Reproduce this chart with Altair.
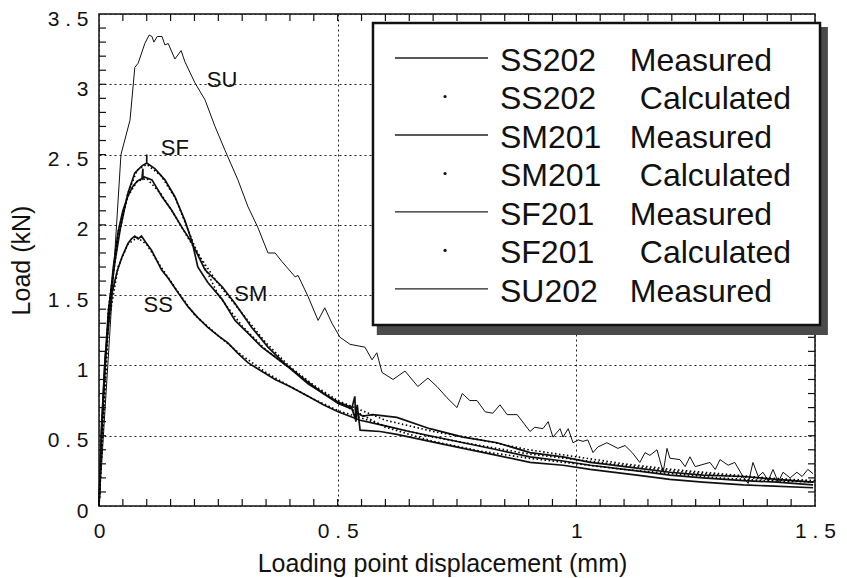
import altair as alt
import pandas as pd

# ---------------- data ----------------
ss_x = [0, 0.005, 0.013, 0.027, 0.038, 0.048, 0.061, 0.068, 0.075, 0.082, 0.089, 0.097, 0.11, 0.131, 0.145,
        0.165, 0.186, 0.207, 0.228, 0.25, 0.27, 0.29, 0.312, 0.34, 0.369, 0.40, 0.438, 0.47, 0.501, 0.547,
        0.6, 0.65, 0.693, 0.763, 0.834, 0.903, 0.972, 1.029, 1.127, 1.196, 1.265, 1.35, 1.42, 1.496]
ss_y = [0, 0.55, 1.06, 1.51, 1.67, 1.77, 1.87, 1.90, 1.92, 1.90, 1.92, 1.88, 1.82, 1.68, 1.62,
        1.52, 1.42, 1.34, 1.27, 1.21, 1.16, 1.09, 1.02, 0.96, 0.90, 0.85, 0.78, 0.72, 0.67, 0.61,
        0.57, 0.53, 0.50, 0.45, 0.40, 0.35, 0.32, 0.29, 0.25, 0.22, 0.20, 0.18, 0.17, 0.15]

sm_x = [0, 0.005, 0.012, 0.02, 0.03, 0.04, 0.05, 0.06, 0.07, 0.08, 0.09, 0.092, 0.092, 0.095, 0.111, 0.132,
        0.153, 0.174, 0.195, 0.222, 0.258, 0.285, 0.32, 0.354, 0.39, 0.438, 0.47, 0.501, 0.53, 0.536,
        0.538, 0.541, 0.553, 0.574, 0.624, 0.693, 0.763, 0.834, 0.903, 0.972, 1.029, 1.056, 1.127, 1.196,
        1.265, 1.35, 1.42, 1.496]
sm_y = [0, 0.45, 0.95, 1.35, 1.7, 1.95, 2.1, 2.2, 2.27, 2.31, 2.33, 2.40, 2.33, 2.34, 2.32, 2.20,
        2.10, 1.98, 1.87, 1.68, 1.56, 1.44, 1.27, 1.13, 1.01, 0.88, 0.80, 0.74, 0.70, 0.78,
        0.60, 0.66, 0.64, 0.65, 0.63, 0.55, 0.49, 0.45, 0.38, 0.35, 0.31, 0.30, 0.27, 0.24,
        0.22, 0.21, 0.19, 0.17]

sf_x = [0, 0.005, 0.012, 0.02, 0.034, 0.045, 0.061, 0.075, 0.09, 0.1, 0.1, 0.1, 0.117, 0.138, 0.159,
        0.18, 0.195, 0.207, 0.228, 0.258, 0.285, 0.312, 0.341, 0.369, 0.40, 0.438, 0.47, 0.501, 0.53,
        0.536, 0.541, 0.547, 0.589, 0.624, 0.693, 0.763, 0.834, 0.903, 0.972, 1.029, 1.127, 1.196,
        1.265, 1.35, 1.496]
sf_y = [0, 0.5, 1.0, 1.4, 1.75, 1.98, 2.23, 2.37, 2.42, 2.44, 2.50, 2.44, 2.40, 2.32, 2.20,
        2.03, 1.88, 1.70, 1.59, 1.47, 1.32, 1.23, 1.13, 1.06, 0.98, 0.87, 0.80, 0.73, 0.69,
        0.63, 0.72, 0.54, 0.53, 0.51, 0.46, 0.41, 0.36, 0.31, 0.29, 0.26, 0.22, 0.19,
        0.17, 0.15, 0.13]

su_x = [0, 0.046, 0.065, 0.075, 0.082, 0.096, 0.105, 0.111, 0.115, 0.122, 0.132, 0.138, 0.145, 0.159,
        0.172, 0.180, 0.201, 0.222, 0.243, 0.264, 0.291, 0.312, 0.333, 0.354, 0.369, 0.383, 0.411,
        0.417, 0.438, 0.459, 0.473, 0.488, 0.505, 0.526, 0.557, 0.572, 0.582, 0.593, 0.616, 0.641,
        0.668, 0.689, 0.708, 0.729, 0.750, 0.761, 0.777, 0.792, 0.809, 0.825, 0.840, 0.855, 0.876,
        0.903, 0.913, 0.930, 0.941, 0.951, 0.966, 0.972, 0.983, 0.993, 1.004, 1.014, 1.024, 1.035,
        1.045, 1.064, 1.087, 1.102, 1.117, 1.133, 1.144, 1.154, 1.169, 1.182, 1.190, 1.196, 1.217,
        1.228, 1.238, 1.249, 1.280, 1.291, 1.301, 1.318, 1.332, 1.349, 1.360, 1.370, 1.381, 1.391,
        1.402, 1.412, 1.423, 1.433, 1.448, 1.462, 1.473, 1.485, 1.496]
su_y = [0, 2.50, 2.745, 3.12, 3.15, 3.29, 3.35, 3.34, 3.30, 3.34, 3.34, 3.28, 3.29, 3.18,
        3.24, 3.16, 3.01, 2.89, 2.70, 2.53, 2.32, 2.13, 1.98, 1.80, 1.80, 1.74, 1.63,
        1.64, 1.49, 1.32, 1.41, 1.30, 1.20, 1.15, 1.13, 1.04, 1.09, 0.95, 0.90, 0.96,
        0.85, 0.91, 0.85, 0.77, 0.70, 0.80, 0.75, 0.75, 0.67, 0.66, 0.72, 0.65, 0.65,
        0.53, 0.56, 0.55, 0.60, 0.49, 0.55, 0.49, 0.55, 0.45, 0.47, 0.46, 0.47, 0.38,
        0.42, 0.45, 0.41, 0.43, 0.38, 0.31, 0.38, 0.36, 0.40, 0.24, 0.41, 0.34, 0.33,
        0.28, 0.35, 0.28, 0.31, 0.26, 0.33, 0.29, 0.31, 0.21, 0.16, 0.31, 0.21, 0.24,
        0.18, 0.26, 0.17, 0.24, 0.20, 0.24, 0.21, 0.26, 0.23]

calc_x = [0, 0.02, 0.04, 0.06, 0.08, 0.1, 0.13, 0.16, 0.2, 0.25, 0.3, 0.35, 0.4, 0.45, 0.5,
          0.6, 0.7, 0.8, 0.9, 1.0, 1.1, 1.2, 1.3, 1.4, 1.5]
ss_calc_y = [0, 1.3, 1.7, 1.86, 1.91, 1.86, 1.70, 1.55, 1.36, 1.21, 1.07, 0.95, 0.85, 0.76, 0.68,
             0.57, 0.49, 0.43, 0.37, 0.33, 0.29, 0.25, 0.22, 0.19, 0.17]
sm_calc_y = [0, 1.4, 1.95, 2.2, 2.31, 2.33, 2.22, 2.06, 1.83, 1.58, 1.37, 1.16, 0.99, 0.86, 0.75,
             0.61, 0.53, 0.47, 0.40, 0.35, 0.30, 0.26, 0.23, 0.20, 0.18]
sf_calc_y = [0, 1.4, 1.9, 2.22, 2.39, 2.43, 2.35, 2.19, 1.85, 1.50, 1.28, 1.11, 0.98, 0.85, 0.74,
             0.56, 0.46, 0.39, 0.34, 0.30, 0.26, 0.23, 0.20, 0.18, 0.17]

legend_ids = ["SS202", "SS202", "SM201", "SM201", "SF201", "SF201", "SU202"]
legend_kinds = ["Measured", "Calculated", "Measured", "Calculated", "Measured", "Calculated", "Measured"]

curve_labels = ["SU", "SF", "SS", "SM"]
curve_label_x = [0.258, 0.159, 0.124, 0.318]
curve_label_y = [3.03, 2.55, 1.43, 1.51]

x_ticks = [0, 0.5, 1, 1.5]
y_ticks = [0, 0.5, 1, 1.5, 2, 2.5, 3, 3.5]

# ---------------- build tables ----------------
def frame(name, xs, ys):
    return pd.DataFrame({"x": xs, "y": ys, "s": name, "o": range(len(xs))})

thick = pd.concat([frame("SS", ss_x, ss_y), frame("SM", sm_x, sm_y), frame("SF", sf_x, sf_y)])
thin = frame("SU", su_x, su_y)
calc = pd.concat([frame("SSc", calc_x, ss_calc_y), frame("SMc", calc_x, sm_calc_y),
                  frame("SFc", calc_x, sf_calc_y)])

W, H = 716, 492
FONT = "Liberation Sans"
xs = alt.Scale(domain=[0, 1.5], nice=False, zero=False)
ys = alt.Scale(domain=[0, 3.5], nice=False, zero=False)
LBL = "replace(format(datum.value, '~g'), '.', ' . ')"

AX = alt.Axis(values=x_ticks, grid=True, gridDash=[2, 3], gridColor="#222", gridWidth=1,
              ticks=False, tickSize=0, domain=False, labelFont=FONT, labelFontSize=21,
              labelColor="#111", labelPadding=14, labelExpr=LBL, labelFlush=False,
              title="Loading point displacement (mm)", titleFont=FONT, titleFontSize=25,
              titleFontWeight="normal", titleColor="#111", titleX=343, titleY=57,
              titleBaseline="middle", titleAlign="center")
AY = alt.Axis(values=y_ticks, grid=True, gridDash=[2, 3], gridColor="#222", gridWidth=1,
              ticks=False, tickSize=0, domain=False, labelFont=FONT, labelFontSize=21,
              labelColor="#111", labelPadding=11, labelBaseline="middle", labelOffset=5,
              labelExpr=LBL, labelFlush=False,
              title="Load (kN)", titleFont=FONT, titleFontSize=25, titleFontWeight="normal",
              titleColor="#111", titleX=-78, titleY=246, titleAngle=270,
              titleBaseline="middle", titleAlign="center")


def X(f):
    return alt.X(f, scale=xs, axis=AX)


def Y(f):
    return alt.Y(f, scale=ys, axis=AY)


thick_layer = alt.Chart(thick).mark_line(color="#111", strokeWidth=1.7).encode(
    x=X("x:Q"), y=Y("y:Q"), detail="s:N", order="o:Q")
thin_layer = alt.Chart(thin).mark_line(color="#111", strokeWidth=1).encode(
    x=X("x:Q"), y=Y("y:Q"), order="o:Q")
calc_layer = alt.Chart(calc).mark_line(color="#000", strokeWidth=1.6, strokeDash=[1.5, 2.5]).encode(
    x=X("x:Q"), y=Y("y:Q"), detail="s:N", order="o:Q")

# inward minor ticks
xt = pd.DataFrame({"t": [round(i * 0.05, 2) for i in range(1, 30)]})
yt = pd.DataFrame({"t": [round(i * 0.1, 1) for i in range(1, 35)]})
tick_bottom = alt.Chart(xt).mark_rule(color="#111", strokeWidth=1.2).encode(
    x=X("t:Q"), y=alt.value(H), y2=alt.value(H - 7))
tick_top = alt.Chart(xt).mark_rule(color="#111", strokeWidth=1.2).encode(
    x=X("t:Q"), y=alt.value(0), y2=alt.value(7))
tick_left = alt.Chart(yt).mark_rule(color="#111", strokeWidth=1.2).encode(
    y=Y("t:Q"), x=alt.value(0), x2=alt.value(7))
tick_right = alt.Chart(yt).mark_rule(color="#111", strokeWidth=1.2).encode(
    y=Y("t:Q"), x=alt.value(W), x2=alt.value(W - 7))

# legend box
shadow = alt.Chart(pd.DataFrame({"x": [0.582], "x2": [1.527], "y": [3.408], "y2": [1.216]})).mark_rect(
    color="#4a4a4a").encode(x=X("x:Q"), x2="x2:Q", y=Y("y:Q"), y2="y2:Q")
box = alt.Chart(pd.DataFrame({"x": [0.574], "x2": [1.5105], "y": [3.436], "y2": [1.288]})).mark_rect(
    fill="white", stroke="#111", strokeWidth=2.5).encode(x=X("x:Q"), x2="x2:Q", y=Y("y:Q"), y2="y2:Q")

row_y = [3.187 - 0.2738 * i for i in range(len(legend_ids))]
leg = pd.DataFrame({"id": legend_ids, "kind": legend_kinds, "ry": row_y,
                    "lx": 0.620, "lx2": 0.815, "dx": 0.725, "tx": 0.840,
                    "kx": [1.112 if k == "Measured" else 1.133 for k in legend_kinds]})
leg_lines = alt.Chart(leg).transform_filter("datum.kind == 'Measured'").mark_rule(
    color="#222", strokeWidth=1.3).encode(x=X("lx:Q"), x2="lx2:Q", y=Y("ry:Q"))
leg_dots = alt.Chart(leg).transform_filter("datum.kind == 'Calculated'").mark_point(
    filled=True, color="#111", size=10, opacity=1).encode(x=X("dx:Q"), y=Y("ry:Q"))
leg_id = alt.Chart(leg).mark_text(font=FONT, fontSize=32, align="left", baseline="middle",
                                  color="#111", dy=3).encode(x=X("tx:Q"), y=Y("ry:Q"), text="id:N")
leg_kind = alt.Chart(leg).mark_text(font=FONT, fontSize=32, align="left", baseline="middle",
                                    color="#111", dy=3).encode(x=X("kx:Q"), y=Y("ry:Q"), text="kind:N")

labels = alt.Chart(pd.DataFrame({"t": curve_labels, "x": curve_label_x, "y": curve_label_y})).mark_text(
    font=FONT, fontSize=22, align="center", baseline="middle", color="#111").encode(
    x=X("x:Q"), y=Y("y:Q"), text="t:N")

chart = alt.layer(
    thick_layer, thin_layer, calc_layer, tick_bottom, tick_top, tick_left, tick_right,
    shadow, box, leg_lines, leg_dots, leg_id, leg_kind, labels
).properties(
    width=W, height=H,
    autosize=alt.AutoSizeParams(type="none"),
    padding={"left": 91, "top": 6, "right": 24, "bottom": 72},
    background="white",
).configure_view(stroke="#111", strokeWidth=1.5)

chart.save("out.html", embed_options={"renderer": "svg", "actions": False})
